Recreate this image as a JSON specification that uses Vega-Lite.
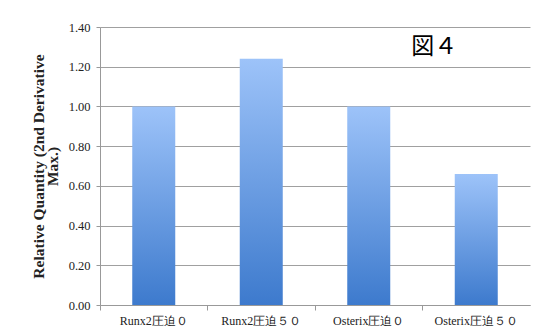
{
  "$schema": "https://vega.github.io/schema/vega-lite/v6.json",
  "autosize": "none",
  "width": 430,
  "height": 278,
  "padding": {"left": 100, "top": 27, "right": 12, "bottom": 26},
  "background": "white",
  "config": {"view": {"stroke": null}},
  "datasets": {
    "bars": [
      {"group": "Runx2圧迫０", "value": 1.00},
      {"group": "Runx2圧迫５０", "value": 1.24},
      {"group": "Osterix圧迫０", "value": 1.00},
      {"group": "Osterix圧迫５０", "value": 0.66}
    ],
    "note": [
      {"group": "Osterix圧迫５０", "value": 1.3, "label": "図４"}
    ]
  },
  "encoding": {
    "x": {
      "field": "group",
      "type": "nominal",
      "sort": ["Runx2圧迫０", "Runx2圧迫５０", "Osterix圧迫０", "Osterix圧迫５０"],
      "title": null,
      "scale": {"paddingInner": 0, "paddingOuter": 0},
      "axis": {
        "labelAngle": 0,
        "labelFont": "Liberation Serif",
        "labelFontSize": 12,
        "labelColor": "#222",
        "labelPadding": 5,
        "labelOverlap": false,
        "bandPosition": 0,
        "tickSize": 5,
        "tickColor": "#999",
        "domainColor": "#999",
        "grid": false
      }
    },
    "y": {
      "field": "value",
      "type": "quantitative",
      "scale": {"domain": [0, 1.4], "nice": false},
      "title": ["Relative Quantity (2nd Derivative", "Max.)"],
      "axis": {
        "values": [0, 0.2, 0.4, 0.6, 0.8, 1.0, 1.2, 1.4],
        "tickCount": 8,
        "format": ".2f",
        "labelOverlap": false,
        "labelFont": "Liberation Serif",
        "labelFontSize": 12.5,
        "labelColor": "#222",
        "labelPadding": 6,
        "tickSize": 4,
        "tickColor": "#999",
        "domainColor": "#999",
        "gridColor": "#a0a0a0",
        "titleFont": "Liberation Serif",
        "titleFontSize": 15.5,
        "titleFontWeight": "bold",
        "titleColor": "#222",
        "titlePadding": 8,
        "titleLineHeight": 14
      }
    }
  },
  "layer": [
    {
      "data": {"name": "bars"},
      "mark": {
        "type": "bar",
        "width": {"band": 0.4},
        "color": {
          "gradient": "linear",
          "x1": 0, "y1": 0, "x2": 0, "y2": 1,
          "stops": [
            {"offset": 0, "color": "#9dc3f9"},
            {"offset": 1, "color": "#3d7acd"}
          ]
        }
      }
    },
    {
      "data": {"name": "note"},
      "mark": {"type": "text", "font": "Noto Sans CJK JP", "fontSize": 23, "dx": -42, "color": "#000"},
      "encoding": {
        "text": {"field": "label"}
      }
    }
  ]
}
